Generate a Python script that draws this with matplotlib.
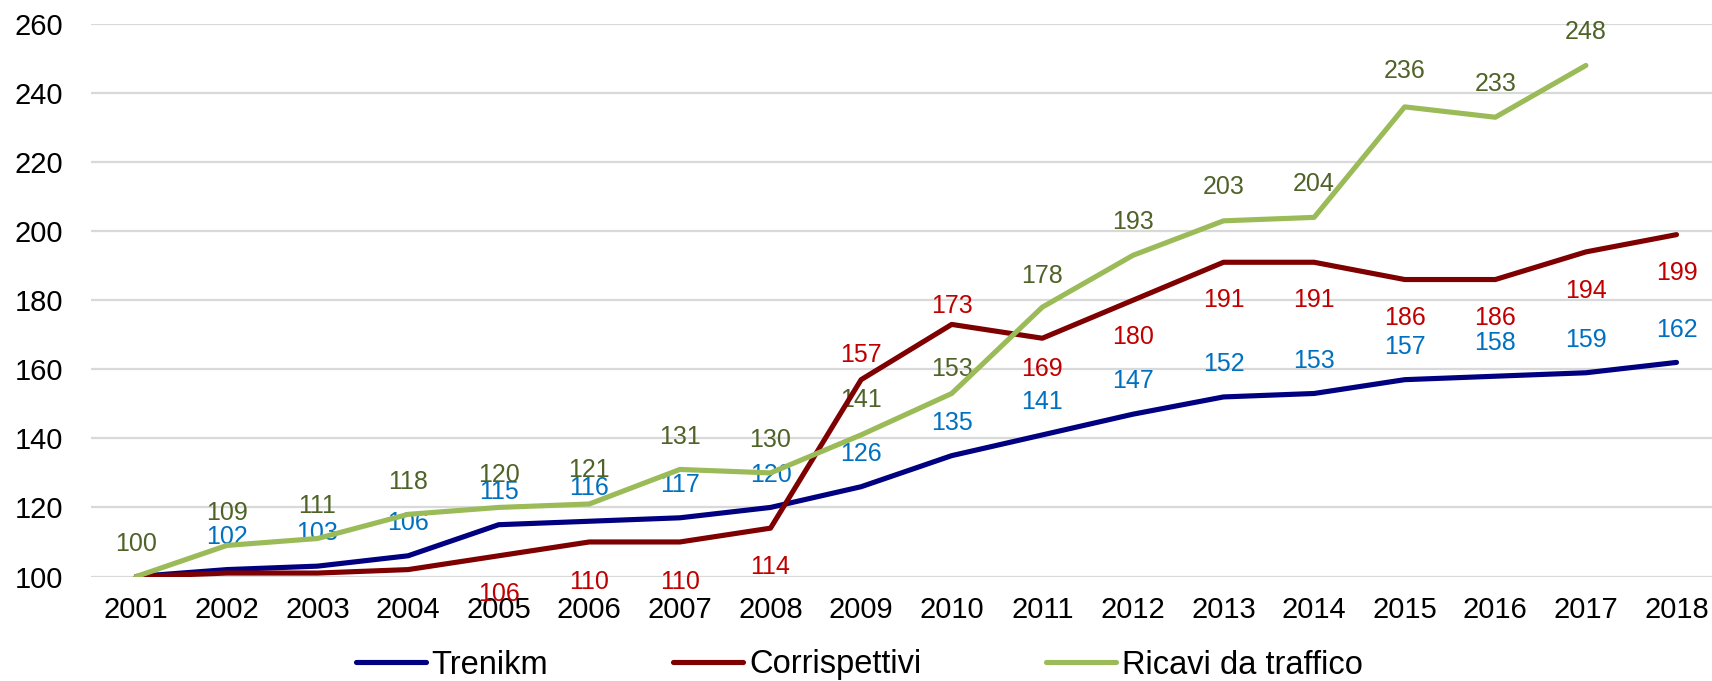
import matplotlib
matplotlib.use('Agg')
import matplotlib.pyplot as plt
import numpy as np

plt.rcParams['font.family'] = ['Liberation Sans', 'DejaVu Sans']

# ---- data ----
years = list(range(2001, 2019))
trenikm = [100, 102, 103, 106, 115, 116, 117, 120, 126, 135, 141, 147, 152, 153, 157, 158, 159, 162]
corrispettivi = [100, 101, 101, 102, 106, 110, 110, 114, 157, 173, 169, 180, 191, 191, 186, 186, 194, 199]
ricavi = [100, 109, 111, 118, 120, 121, 131, 130, 141, 153, 178, 193, 203, 204, 236, 233, 248, None]
series_names = ['Trenikm', 'Corrispettivi', 'Ricavi da traffico']
y_ticks = [100, 120, 140, 160, 180, 200, 220, 240, 260]

# ---- label placement (style: vertical offset in data units, None = label hidden) ----
off_tren = [None] + [9.5] * 17
off_corr = [None, None, None, None, -11, -11.5, -11.5, -11.3, 7, 5.2, -9, -10.6, -11, -11, -11.2, -11.2, -11.3, -11.1]
off_ric = [9.5, 9.5, 9.3, 9.5, 9.4, 9.8, 9.3, 9.5, 10, 7, 9, 9.7, 9.9, 9.6, 10.3, 9.7, 9.6, None]

line_colors = ['#000080', '#7F0000', '#9BBB59']
label_colors = ['#0070C0', '#C00000', '#4F6228']

W, H = 1712, 681
fig = plt.figure(figsize=(W / 100, H / 100), dpi=100)
left, right_px, y100, y260 = 91, 1712, 576.5, 24
ax = fig.add_axes([left / W, (H - y100) / H, (right_px - left) / W, (y100 - y260) / H])

step = 90.6
ax.set_xlim(2000.5, 2000.5 + (right_px - left) / step)
ax.set_ylim(100, 260)

for v in y_ticks:
    ax.axhline(v, color='#D9D9D9', lw=1.6, zorder=1)

all_series = [trenikm, corrispettivi, ricavi]
offsets = [off_tren, off_corr, off_ric]
for vals, name, lc, tc, offs in zip(all_series, series_names, line_colors, label_colors, offsets):
    arr = np.array([np.nan if v is None else v for v in vals], dtype=float)
    ax.plot(years, arr, color=lc, lw=3.7, solid_capstyle='round', solid_joinstyle='round',
            label=name, zorder=3)
    for x, v, o in zip(years, vals, offs):
        if v is None or o is None:
            continue
        ax.text(x, v + o, f'{v:d}', color=tc, fontsize=18, ha='center', va='center',
                zorder=2.5)

ax.set_yticks(y_ticks)
ax.set_yticklabels([str(v) for v in y_ticks])
ax.set_xticks(years)
ax.set_xticklabels([str(y) for y in years])
ax.tick_params(axis='both', length=0, labelsize=21, colors='black')
ax.tick_params(axis='y', pad=20)
ax.tick_params(axis='x', pad=14)
for s in ax.spines.values():
    s.set_visible(False)
ax.set_facecolor('white')

fs = 23.5
fs_px = fs * 100 / 72
leg = fig.legend(loc='center', bbox_to_anchor=(0.502, (H - 665) / H), ncol=3, frameon=False,
                 fontsize=fs, handlelength=70 / fs_px, handletextpad=6 / fs_px,
                 columnspacing=125 / fs_px, borderpad=0, borderaxespad=0)

fig.savefig('out.png', dpi=100, facecolor='white')
